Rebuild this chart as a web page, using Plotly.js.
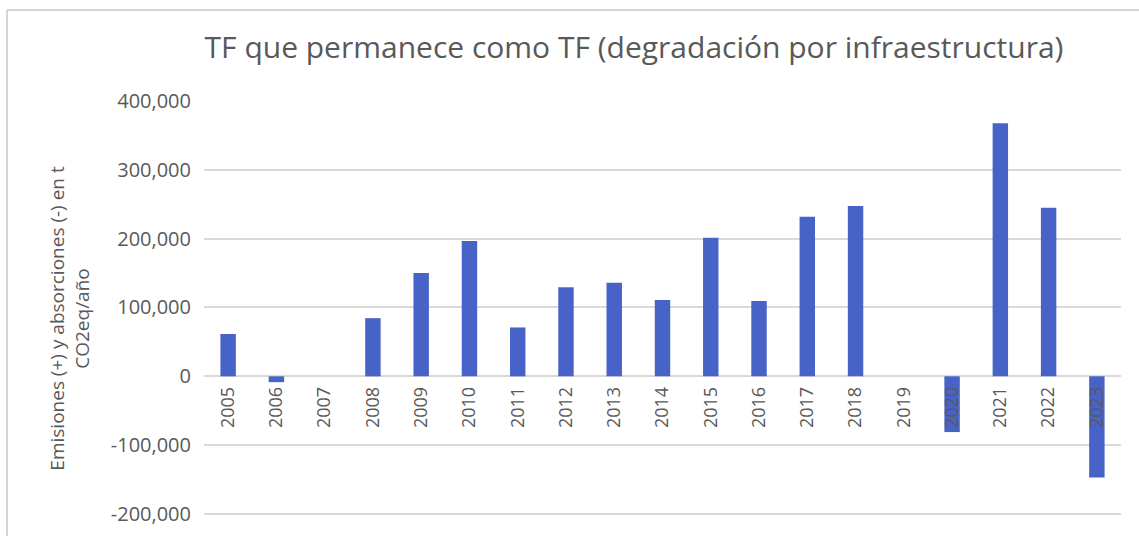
<!DOCTYPE html>
<html>
<head>
<meta charset="utf-8">
<script src="https://cdn.plot.ly/plotly-3.0.1.min.js"></script>
<style>html,body{margin:0;padding:0;background:#fff;}#chart{width:1139px;height:536px;}</style>
</head>
<body>
<div id="chart"></div>
<script>
const years = ["2005","2006","2007","2008","2009","2010","2011","2012","2013","2014","2015","2016","2017","2018","2019","2020","2021","2022","2023"];
const values = [61500, -8500, 0, 84500, 150000, 196500, 71000, 129500, 136000, 111000, 201500, 109500, 232000, 247500, 0, -81000, 367500, 245000, -147000];
const yTickVals = [-200000, -100000, 0, 100000, 200000, 300000, 400000];
const yTickText = ["-200,000", "-100,000", "0", "100,000", "200,000", "300,000", "400,000"];
const titleText = "TF que permanece como TF (degradación por infraestructura)";
const yTitleText = "Emisiones (+) y absorciones (-) en t<br>CO2eq/año";

const W = 1139, H = 536;
const mL = 204, mR = 18, mT = 101, mB = 0;
const yRange = [-232000, 400000];
const plotW = W - mL - mR, plotH = H - mT - mB;
const zeroPos = (0 - yRange[0]) / (yRange[1] - yRange[0]);
const px = v => (v - mL) / plotW;
const py = v => (H - mB - v) / plotH;
const grey = "#595959";
const font = "'Open Sans', 'Noto Sans', sans-serif";

const trace = {
  type: "bar",
  x: years,
  y: values,
  marker: {color: "#4863C8"},
  hoverinfo: "x+y"
};

const layout = {
  width: W, height: H,
  margin: {l: mL, r: mR, t: mT, b: mB, pad: 0},
  paper_bgcolor: "#ffffff",
  plot_bgcolor: "#ffffff",
  showlegend: false,
  bargap: 0.68,
  font: {family: font, color: grey},
  title: {
    text: titleText,
    font: {family: font, size: 30, color: grey},
    x: 634 / W, xref: "container", xanchor: "center",
    y: 1 - 47 / H, yref: "container", yanchor: "middle"
  },
  xaxis: {
    type: "category",
    anchor: "free",
    position: zeroPos,
    tickangle: -90,
    tickfont: {family: font, size: 18, color: grey},
    showgrid: false,
    showline: false,
    ticks: "",
    ticklabelstandoff: 6,
    fixedrange: true
  },
  yaxis: {
    range: yRange,
    tickvals: yTickVals,
    ticktext: yTickText,
    tickfont: {family: font, size: 20, color: grey},
    showgrid: true,
    gridcolor: "#d9d9d9",
    gridwidth: 2,
    zeroline: true,
    zerolinecolor: "#d9d9d9",
    zerolinewidth: 2,
    showline: false,
    ticks: "",
    ticklabelstandoff: 12,
    title: {text: yTitleText, font: {family: font, size: 19, color: grey}, standoff: 16},
    fixedrange: true
  },
  shapes: [
    {type: "line", xref: "paper", yref: "paper", x0: px(7), x1: px(W), y0: py(10), y1: py(10), line: {color: "#d4d4d4", width: 2}},
    {type: "line", xref: "paper", yref: "paper", x0: px(7), x1: px(7), y0: py(10), y1: py(H), line: {color: "#d4d4d4", width: 2}}
  ]
};

Plotly.newPlot("chart", [trace], layout, {displayModeBar: false, staticPlot: true});
</script>
</body>
</html>
